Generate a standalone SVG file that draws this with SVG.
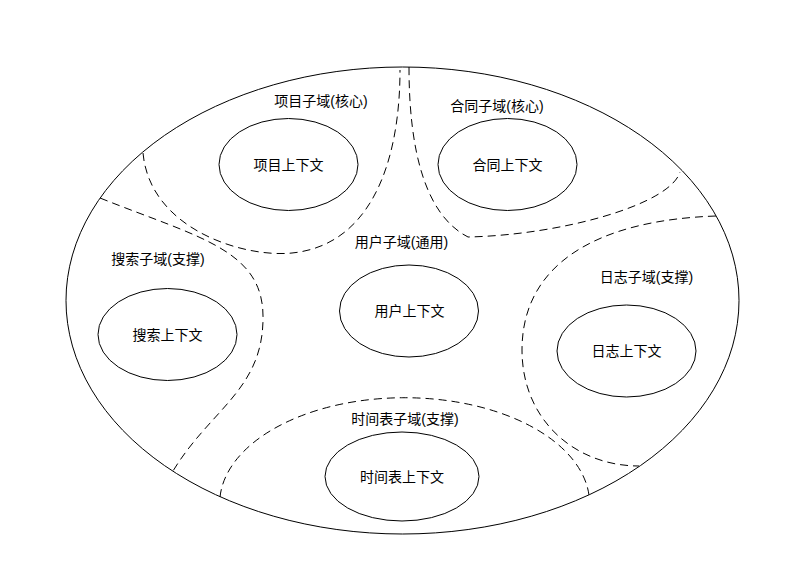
<svg xmlns="http://www.w3.org/2000/svg" width="808" height="568" viewBox="0 0 808 568">
<style>
.e{fill:#fff;stroke:#000;stroke-width:1}
.d{fill:none;stroke:#000;stroke-width:1;stroke-dasharray:8 5}
text{font-family:"Liberation Sans","Noto Sans CJK SC",sans-serif;font-size:14px;fill:#000;text-anchor:middle;dominant-baseline:central}
</style>
<rect width="808" height="568" fill="#fff"/>
<g id="outer"><ellipse class="e" cx="402.5" cy="300.5" rx="336.5" ry="233.5"/></g>
<g id="connectors">
<path class="d" d="M143,153 C150,230 245,258 292,253 C372,245 400,160 400,70"/>
<path class="d" d="M409,67 C409,150 425,215 468,237 C560,235 670,205 680,172"/>
<path class="d" d="M100,198 C200,238 265,250 263,320 C262,390 210,410 173,471"/>
<path class="d" d="M716,216 C600,220 522,262 522,350 C522,420 575,466 639,466"/>
<path class="d" d="M220,497 A185,106 0 0 1 589,495"/>
</g>
<g id="xiangmu"><text x="321" y="101">项目子域(核心)</text><ellipse class="e" cx="288.5" cy="164.5" rx="69.5" ry="46"/><text x="288.5" y="164.5">项目上下文</text></g>
<g id="hetong"><text x="497" y="106">合同子域(核心)</text><ellipse class="e" cx="507.5" cy="164.5" rx="69.5" ry="46"/><text x="507.5" y="164.5">合同上下文</text></g>
<g id="yonghu"><text x="401.5" y="242">用户子域(通用)</text><ellipse class="e" cx="409" cy="311" rx="69.5" ry="46"/><text x="409.5" y="311">用户上下文</text></g>
<g id="sousuo"><text x="158" y="259">搜索子域(支撑)</text><ellipse class="e" cx="167.5" cy="334.5" rx="69.5" ry="46"/><text x="167.5" y="334.5">搜索上下文</text></g>
<g id="rizhi"><text x="646.5" y="277">日志子域(支撑)</text><ellipse class="e" cx="626.5" cy="351" rx="69.5" ry="46"/><text x="626.5" y="351">日志上下文</text></g>
<g id="shijianbiao"><text x="405" y="419">时间表子域(支撑)</text><ellipse class="e" cx="402" cy="476.5" rx="77" ry="44.5"/><text x="402" y="476.5">时间表上下文</text></g>
</svg>
